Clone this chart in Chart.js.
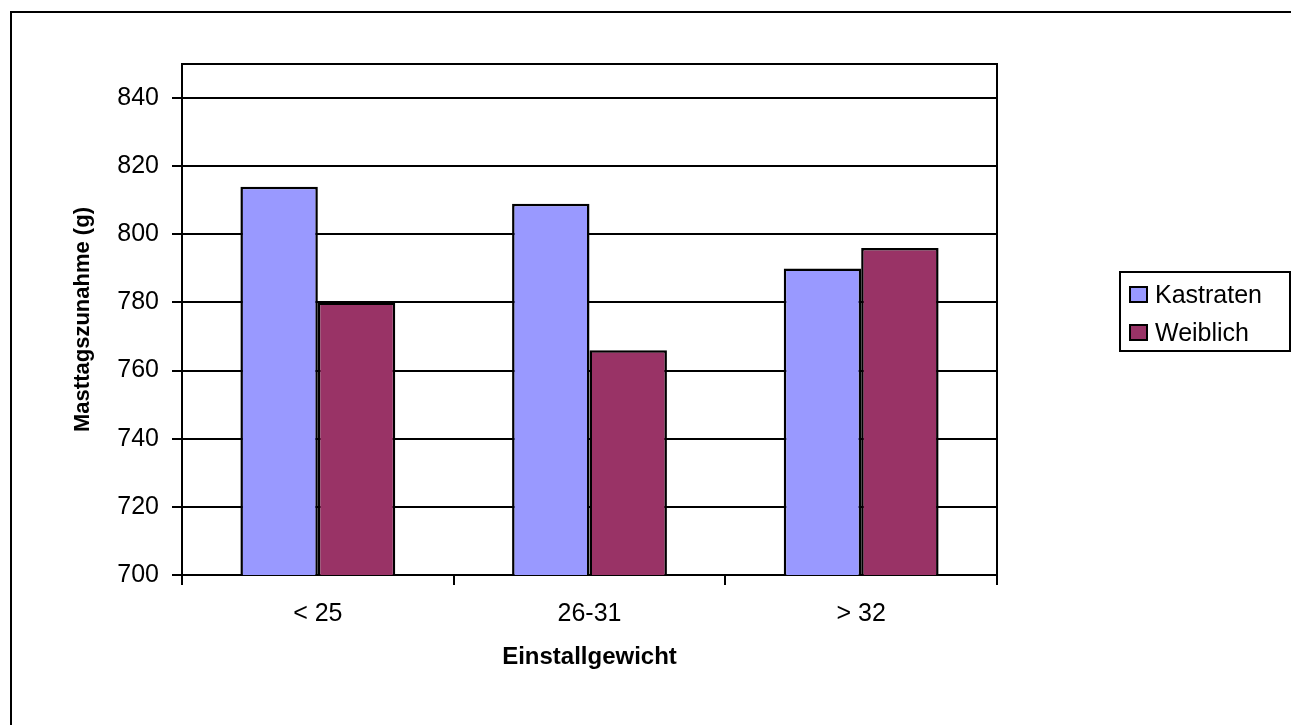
<!DOCTYPE html>
<html>
<head>
<meta charset="utf-8">
<script src="https://cdn.jsdelivr.net/npm/chart.js@4/dist/chart.umd.min.js"></script>
<style>
	body { margin: 0; background: #fff; }
	#wrap { width: 1291px; height: 725px; }
</style>
</head>
<body>
<div id="wrap"><canvas id="cvs" width="1291" height="725"></canvas></div>
<script>
// Masttagszunahme nach Einstallgewicht
var categories = ["< 25", "26-31", "> 32"];
var kastraten = [814, 809, 790];
var weiblich = [780, 766, 796];
var seriesNames = ["Kastraten", "Weiblich"];
var seriesColors = ["#9999FF", "#993366"];
var yMin = 700, yMax = 850, yStep = 20;

var fontFamily = "'Liberation Sans', Arial, sans-serif";

// outer frame, plot frame and the boxed legend
var framePlugin = {
	id: "frames",
	beforeDraw: function(chart) {
		var ctx = chart.ctx;
		ctx.save();
		ctx.strokeStyle = "#000";
		ctx.lineWidth = 2;
		ctx.beginPath();
		ctx.moveTo(11, 725);
		ctx.lineTo(11, 12);
		ctx.lineTo(1291, 12);
		ctx.stroke();
		ctx.restore();
	},
	afterDraw: function(chart) {
		var ctx = chart.ctx;
		var a = chart.chartArea;
		ctx.save();
		ctx.strokeStyle = "#000";
		ctx.lineWidth = 2;
		ctx.beginPath();
		ctx.moveTo(a.left, a.top);
		ctx.lineTo(a.right, a.top);
		ctx.lineTo(a.right, a.bottom);
		ctx.stroke();

		// legend
		var lx = 1120, ly = 272, lw = 170, lh = 79;
		ctx.lineWidth = 2;
		ctx.strokeRect(lx, ly, lw, lh);
		ctx.font = "25px " + fontFamily;
		ctx.textBaseline = "alphabetic";
		ctx.textAlign = "left";
		chart.data.datasets.forEach(function(ds, i) {
			var rowY = ly + 15 + i * 38;
			ctx.fillStyle = ds.backgroundColor;
			ctx.fillRect(lx + 10, rowY, 17, 15);
			ctx.lineWidth = 2;
			ctx.strokeRect(lx + 10, rowY, 17, 15);
			ctx.fillStyle = "#000";
			ctx.fillText(ds.label, lx + 35, rowY + 16);
		});
		ctx.restore();
	}
};

new Chart(document.getElementById("cvs"), {
	type: "bar",
	data: {
		labels: categories,
		datasets: [
			{
				label: seriesNames[0],
				data: kastraten,
				backgroundColor: seriesColors[0],
				borderColor: "#000",
				borderWidth: 2.5
			},
			{
				label: seriesNames[1],
				data: weiblich,
				backgroundColor: seriesColors[1],
				borderColor: "#000",
				borderWidth: 2.5
			}
		]
	},
	options: {
		responsive: false,
		animation: false,
		maintainAspectRatio: false,
		categoryPercentage: 0.57,
		barPercentage: 1.0,
		layout: {
			padding: { top: 64, right: 294, left: 0, bottom: 0 }
		},
		plugins: {
			legend: { display: false },
			title: { display: false },
			tooltip: { enabled: false }
		},
		scales: {
			x: {
				afterFit: function(scale) { scale.height = 150; },
				grid: {
					drawOnChartArea: false,
					drawTicks: true,
					tickLength: 10,
					color: "#000",
					lineWidth: 2
				},
				border: { display: true, color: "#000", width: 2 },
				ticks: {
					color: "#000",
					padding: 14,
					font: { family: fontFamily, size: 25 }
				},
				title: {
					display: true,
					text: "Einstallgewicht",
					color: "#000",
					font: { family: fontFamily, size: 24, weight: "bold" },
					padding: { top: 0, bottom: 53 }
				}
			},
			y: {
				min: yMin,
				max: yMax,
				bounds: "data",
				afterFit: function(scale) { scale.width = 182; },
				// no label or tick mark at the top edge (850)
				afterBuildTicks: function(scale) {
					scale.ticks = scale.ticks.filter(function(t) { return t.value % yStep === 0; });
				},
				grid: {
					color: "#000",
					lineWidth: 2,
					tickLength: 10
				},
				border: { display: true, color: "#000", width: 2 },
				ticks: {
					stepSize: yStep,
					color: "#000",
					padding: 13,
					font: { family: fontFamily, size: 25 }
				},
				title: {
					display: true,
					text: "Masttagszunahme (g)",
					color: "#000",
					font: { family: fontFamily, size: 22, weight: "bold" },
					padding: { top: 70, bottom: 0 }
				}
			}
		}
	},
	plugins: [framePlugin]
});
</script>
</body>
</html>
